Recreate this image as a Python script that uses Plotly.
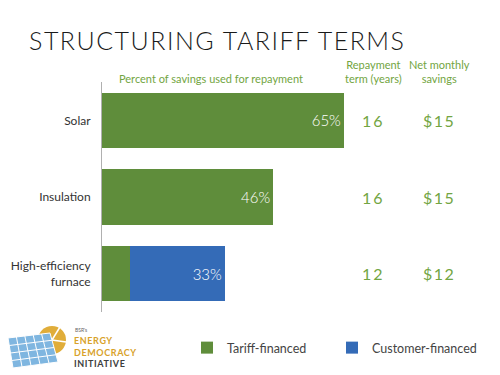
import plotly.graph_objects as go

categories = ["Solar", "Insulation", "High-efficiency<br>furnace"]
tariff_financed = [65, 46, 7.5]
customer_financed = [0, 0, 25.5]
bar_labels = ["65%", "46%", "33%"]
repayment_term = ["16", "16", "12"]
net_savings = ["$15", "$15", "$12"]

GREEN = "#5f8d3b"
BLUE = "#346bb7"
TXT_GREEN = "#72a542"
FONT = "Lato, 'Open Sans', sans-serif"

W, H = 500, 375
L, R, T, B = 102, 26, 82, 63
PW, PH = W - L - R, H - T - B


def px(x):
    return (x - L) / PW


def py(y):
    return (H - B - y) / PH


tariff_text = [bar_labels[i] if customer_financed[i] == 0 else "" for i in range(3)]
cust_text = [bar_labels[i] if customer_financed[i] > 0 else "" for i in range(3)]

fig = go.Figure()
fig.add_trace(go.Bar(
    y=categories, x=tariff_financed, orientation="h", name="Tariff-financed",
    marker=dict(color=GREEN, line=dict(width=0)), width=0.72,
    text=tariff_text, textposition="inside", insidetextanchor="end",
    textfont=dict(color="white", size=15, family=FONT, weight=300), hoverinfo="skip",
))
fig.add_trace(go.Bar(
    y=categories, x=customer_financed, orientation="h", name="Customer-financed",
    marker=dict(color=BLUE, line=dict(width=0)), width=0.72,
    text=cust_text, textposition="inside", insidetextanchor="end",
    textfont=dict(color="white", size=15, family=FONT, weight=300), hoverinfo="skip",
))

ann = []
ann.append(dict(text='<span style="letter-spacing:1.5px">STRUCTURING TARIFF TERMS</span>',
                xref="paper", yref="paper", x=px(27), y=py(40), xanchor="left", yanchor="middle",
                showarrow=False, font=dict(size=25, color="#1a1a1a", family=FONT, weight=300)))
ann.append(dict(text="Percent of savings used for repayment", xref="paper", yref="paper",
                x=px(211), y=py(78), xanchor="center", yanchor="middle", showarrow=False,
                font=dict(size=11, color=TXT_GREEN, family=FONT)))
ann.append(dict(text="Repayment<br>term (years)", xref="paper", yref="paper",
                x=px(373), y=py(71), xanchor="center", yanchor="middle", showarrow=False,
                font=dict(size=11, color=TXT_GREEN, family=FONT)))
ann.append(dict(text="Net monthly<br>savings", xref="paper", yref="paper",
                x=px(439), y=py(71), xanchor="center", yanchor="middle", showarrow=False,
                font=dict(size=11, color=TXT_GREEN, family=FONT)))
for i, c in enumerate(categories):
    ann.append(dict(text='<span style="letter-spacing:2px">%s</span>' % repayment_term[i],
                    xref="paper", yref="y", x=px(373), y=c, xanchor="center", yanchor="middle",
                    showarrow=False, font=dict(size=16, color=TXT_GREEN, family=FONT)))
    ann.append(dict(text='<span style="letter-spacing:1.5px">%s</span>' % net_savings[i],
                    xref="paper", yref="y", x=px(439), y=c, xanchor="center", yanchor="middle",
                    showarrow=False, font=dict(size=16, color=TXT_GREEN, family=FONT)))

# logo text
ann.append(dict(text="BSR's", xref="paper", yref="paper", x=px(73), y=py(330), xanchor="left",
                yanchor="middle", showarrow=False, font=dict(size=5, color="#666", family=FONT)))
logo_txt = ('<span style="color:#d8a22a;letter-spacing:0.6px"><b>ENERGY</b></span><br>'
            '<span style="color:#d8a22a;letter-spacing:0.6px"><b>DEMOCRACY</b></span><br>'
            '<span style="color:#3d3d3d;letter-spacing:0.6px"><b>INITIATIVE</b></span>')
ann.append(dict(text=logo_txt, xref="paper", yref="paper", x=px(72), y=py(352), xanchor="left",
                yanchor="middle", align="left", showarrow=False,
                font=dict(size=9, family=FONT)))

shapes = []
# sun
shapes.append(dict(type="circle", xref="paper", yref="paper",
                   x0=px(38), x1=px(66), y0=py(326), y1=py(354),
                   fillcolor="#e0ad3a", line=dict(width=0), layer="above"))
shapes.append(dict(type="line", xref="paper", yref="paper",
                   x0=px(52), y0=py(340), x1=px(60), y1=py(327), line=dict(color="white", width=1.5), layer="above"))
shapes.append(dict(type="line", xref="paper", yref="paper",
                   x0=px(52), y0=py(340), x1=px(66), y1=py(342), line=dict(color="white", width=1.5), layer="above"))
# solar panel
path = "M %f %f L %f %f L %f %f L %f %f Z" % (px(8), py(338), px(50), py(333), px(58), py(362), px(13), py(368))
shapes.append(dict(type="path", xref="paper", yref="paper", path=path,
                   fillcolor="#7fb6e0", line=dict(color="white", width=1), layer="above"))
for f in [0.25, 0.5, 0.75]:
    xa, ya = 8 + (13 - 8) * f, 338 + (368 - 338) * f
    xb, yb = 50 + (58 - 50) * f, 333 + (362 - 333) * f
    shapes.append(dict(type="line", xref="paper", yref="paper", x0=px(xa), y0=py(ya), x1=px(xb), y1=py(yb),
                       line=dict(color="white", width=1), layer="above"))
for f in [0.2, 0.4, 0.6, 0.8]:
    xa, ya = 8 + (50 - 8) * f, 338 + (333 - 338) * f
    xb, yb = 13 + (58 - 13) * f, 368 + (362 - 368) * f
    shapes.append(dict(type="line", xref="paper", yref="paper", x0=px(xa), y0=py(ya), x1=px(xb), y1=py(yb),
                       line=dict(color="white", width=1), layer="above"))

fig.update_layout(
    width=W, height=H, margin=dict(l=L, r=R, t=T, b=B, autoexpand=False),
    paper_bgcolor="white", plot_bgcolor="white",
    barmode="stack", bargap=0.28, showlegend=True,
    font=dict(family=FONT, color="#333"),
    xaxis=dict(range=[0, 100], visible=False, fixedrange=True, automargin=False),
    yaxis=dict(categoryorder="array", categoryarray=categories[::-1], showline=True,
               linecolor="#b0b0b0", linewidth=1, ticks="", showgrid=False, zeroline=False,
               automargin=False,
               tickfont=dict(size=12, color="#333", family=FONT), ticklabelstandoff=8, fixedrange=True),
    legend=dict(orientation="h", xref="container", yref="container", x=187 / W, y=1 - 348 / H,
                xanchor="left", yanchor="middle", entrywidth=100,
                font=dict(size=12.5, color="#444", family=FONT), traceorder="normal"),
    annotations=ann, shapes=shapes,
)

fig.write_html("out.html", config={"displayModeBar": False},
               post_script="document.body.style.margin='0';document.body.style.overflow='hidden';")
